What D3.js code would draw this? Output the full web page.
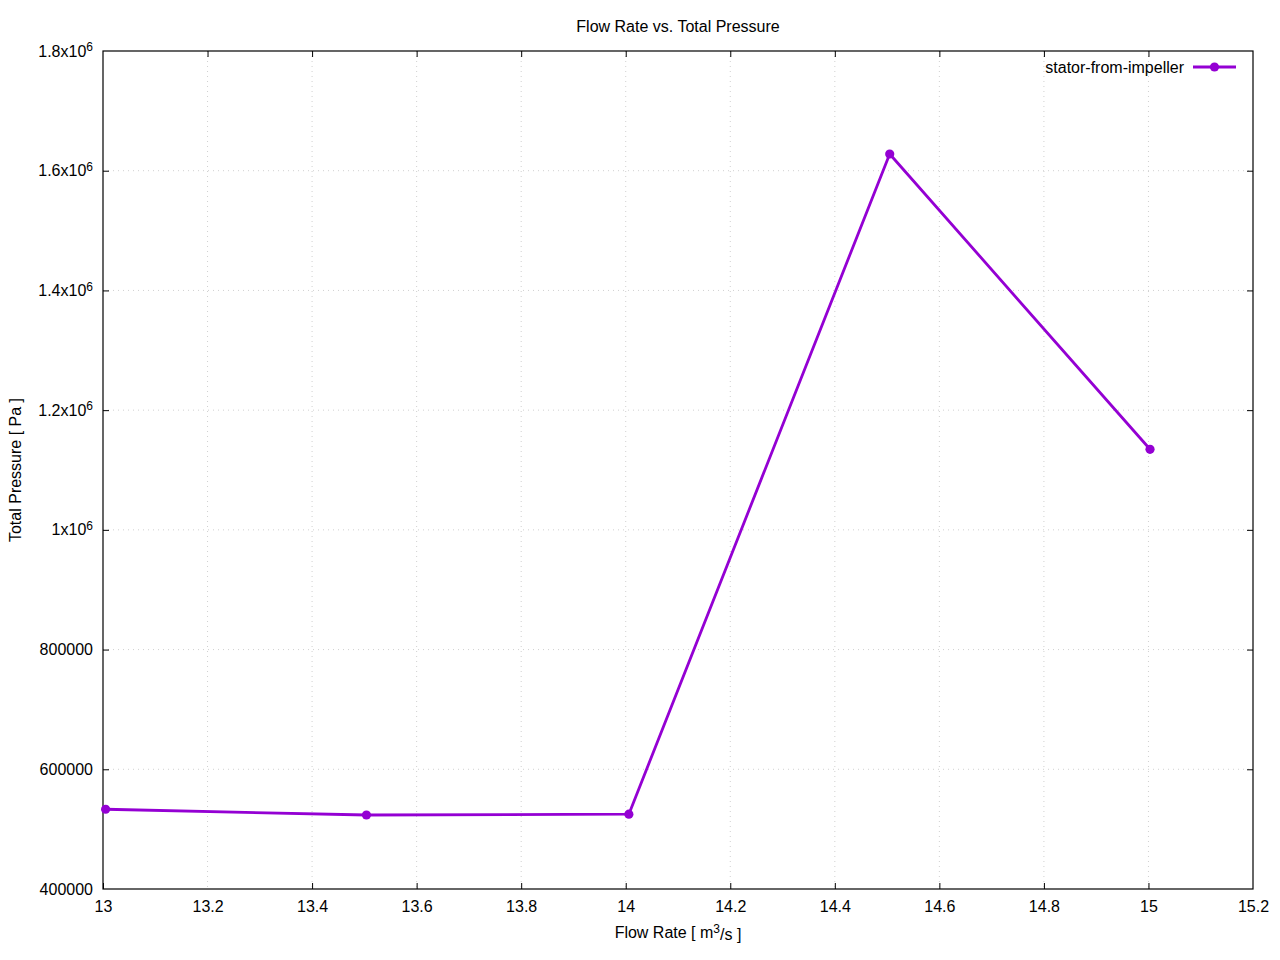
<!DOCTYPE html>
<html>
<meta charset="utf-8">
<head>
    <script src="https://d3js.org/d3.v7.min.js"></script>
    <style>
        body { margin: 0; background: #fff; }
        text { font-family: "Liberation Sans", Arial, sans-serif; fill: #000; }
    </style>
</head>
<body>
    <div id="chart"></div>
</body>

<script>
    // data
    const flowRate = [13.005, 13.504, 14.006, 14.505, 15.003];
    const totalPressure = [533200, 523600, 525000, 1627900, 1134600];
    const seriesName = "stator-from-impeller";
    const xTicks = [13, 13.2, 13.4, 13.6, 13.8, 14, 14.2, 14.4, 14.6, 14.8, 15, 15.2];
    const yTicks = [400000, 600000, 800000, 1000000, 1200000, 1400000, 1600000, 1800000];

    const margin = { top: 51, right: 27, bottom: 71, left: 103 },
        width = 1280 - margin.left - margin.right,
        height = 960 - margin.top - margin.bottom;
    const color = "#9400d3";

    const root = d3.select("#chart")
        .append("svg")
            .attr("width", 1280)
            .attr("height", 960);

    const svg = root.append("g")
        .attr("transform", `translate(${margin.left}, ${margin.top})`);

    const x = d3.scaleLinear().domain([13, 15.2]).range([0, width]);
    const y = d3.scaleLinear().domain([400000, 1800000]).range([height, 0]);

    // grid
    svg.append("g")
        .selectAll("line")
        .data(xTicks.slice(1, -1))
        .join("line")
            .attr("x1", d => x(d)).attr("x2", d => x(d))
            .attr("y1", 0).attr("y2", height)
            .attr("stroke", "#d0d0d0").attr("stroke-width", 1)
            .attr("stroke-dasharray", "1,4");
    svg.append("g")
        .selectAll("line")
        .data(yTicks.slice(1, -1))
        .join("line")
            .attr("x1", 0).attr("x2", width)
            .attr("y1", d => y(d)).attr("y2", d => y(d))
            .attr("stroke", "#d0d0d0").attr("stroke-width", 1)
            .attr("stroke-dasharray", "1,4");

    // y tick label with superscript where needed
    function yLabel(sel) {
        sel.selectAll(".tick text").each(function(d) {
            const t = d3.select(this);
            t.text(null);
            if (d >= 1000000) {
                const m = d / 1000000;
                t.append("tspan").text((m === 1 ? "1" : m.toFixed(1)) + "x10");
                t.append("tspan").attr("dy", "-0.45em").attr("font-size", "12px").text("6");
            } else {
                t.text(d);
            }
        });
    }

    // axes, ticks inward and mirrored
    const ax = svg.append("g")
        .attr("transform", `translate(0, ${height})`)
        .call(d3.axisBottom(x).tickValues(xTicks).tickSizeInner(-6).tickSizeOuter(0).tickPadding(12).tickFormat(d3.format("")));
    const axTop = svg.append("g")
        .call(d3.axisTop(x).tickValues(xTicks).tickSizeInner(-6).tickSizeOuter(0).tickFormat(""));
    const ay = svg.append("g")
        .call(d3.axisLeft(y).tickValues(yTicks).tickSizeInner(-6).tickSizeOuter(0).tickPadding(10))
        .call(yLabel);
    const ayR = svg.append("g")
        .attr("transform", `translate(${width}, 0)`)
        .call(d3.axisRight(y).tickValues(yTicks).tickSizeInner(-6).tickSizeOuter(0).tickFormat(""));

    [ax, axTop, ay, ayR].forEach(g => {
        g.select(".domain").remove();
        g.selectAll("line").attr("stroke", "#000");
        g.selectAll("text").attr("font-size", "16px").attr("fill", "#000");
    });
    ay.selectAll("tspan").filter(function() { return this.textContent === "6"; }).attr("font-size", "12px");
    ax.selectAll(".tick").filter(d => d === 13.2 || d === 15.2).select("line").remove();
    axTop.selectAll(".tick").filter(d => d === 13 || d === 15.2).remove();
    ay.selectAll(".tick").filter(d => d === 400000 || d === 1800000).select("line").remove();
    ayR.selectAll(".tick").filter(d => d === 400000 || d === 1800000).remove();

    // frame
    svg.append("rect")
        .attr("width", width).attr("height", height)
        .attr("fill", "none").attr("stroke", "#000").attr("stroke-width", 1.2);

    // series
    const line = d3.line().x((d, i) => x(flowRate[i])).y(d => y(d));
    svg.append("path")
        .datum(totalPressure)
        .attr("d", line)
        .attr("fill", "none")
        .attr("stroke", color)
        .attr("stroke-width", 2.8)
        .attr("stroke-linejoin", "round");
    svg.selectAll(".pt")
        .data(totalPressure)
        .join("circle")
            .attr("cx", (d, i) => x(flowRate[i]))
            .attr("cy", d => y(d))
            .attr("r", 4.6)
            .attr("fill", color);

    // legend
    const lg = root.append("g").attr("transform", "translate(0, 67)");
    lg.append("text").attr("x", 1184).attr("y", 6).attr("text-anchor", "end")
        .attr("font-size", "16px").text(seriesName);
    lg.append("line").attr("x1", 1193).attr("x2", 1236).attr("y1", 0).attr("y2", 0)
        .attr("stroke", color).attr("stroke-width", 2.8);
    lg.append("circle").attr("cx", 1214.5).attr("cy", 0).attr("r", 4.6).attr("fill", color);

    // titles
    root.append("text").attr("x", 678).attr("y", 32).attr("text-anchor", "middle")
        .attr("font-size", "16px").text("Flow Rate vs. Total Pressure");
    const xl = root.append("text").attr("x", 678).attr("y", 938).attr("text-anchor", "middle")
        .attr("font-size", "16px");
    xl.append("tspan").text("Flow Rate [ m");
    xl.append("tspan").attr("dy", "-0.45em").attr("font-size", "12px").text("3");
    xl.append("tspan").attr("dy", "0.45em").text("/s ]");
    root.append("text").attr("transform", "translate(21, 470) rotate(-90)")
        .attr("text-anchor", "middle").attr("font-size", "16px").text("Total Pressure [ Pa ]");
</script>
</html>
